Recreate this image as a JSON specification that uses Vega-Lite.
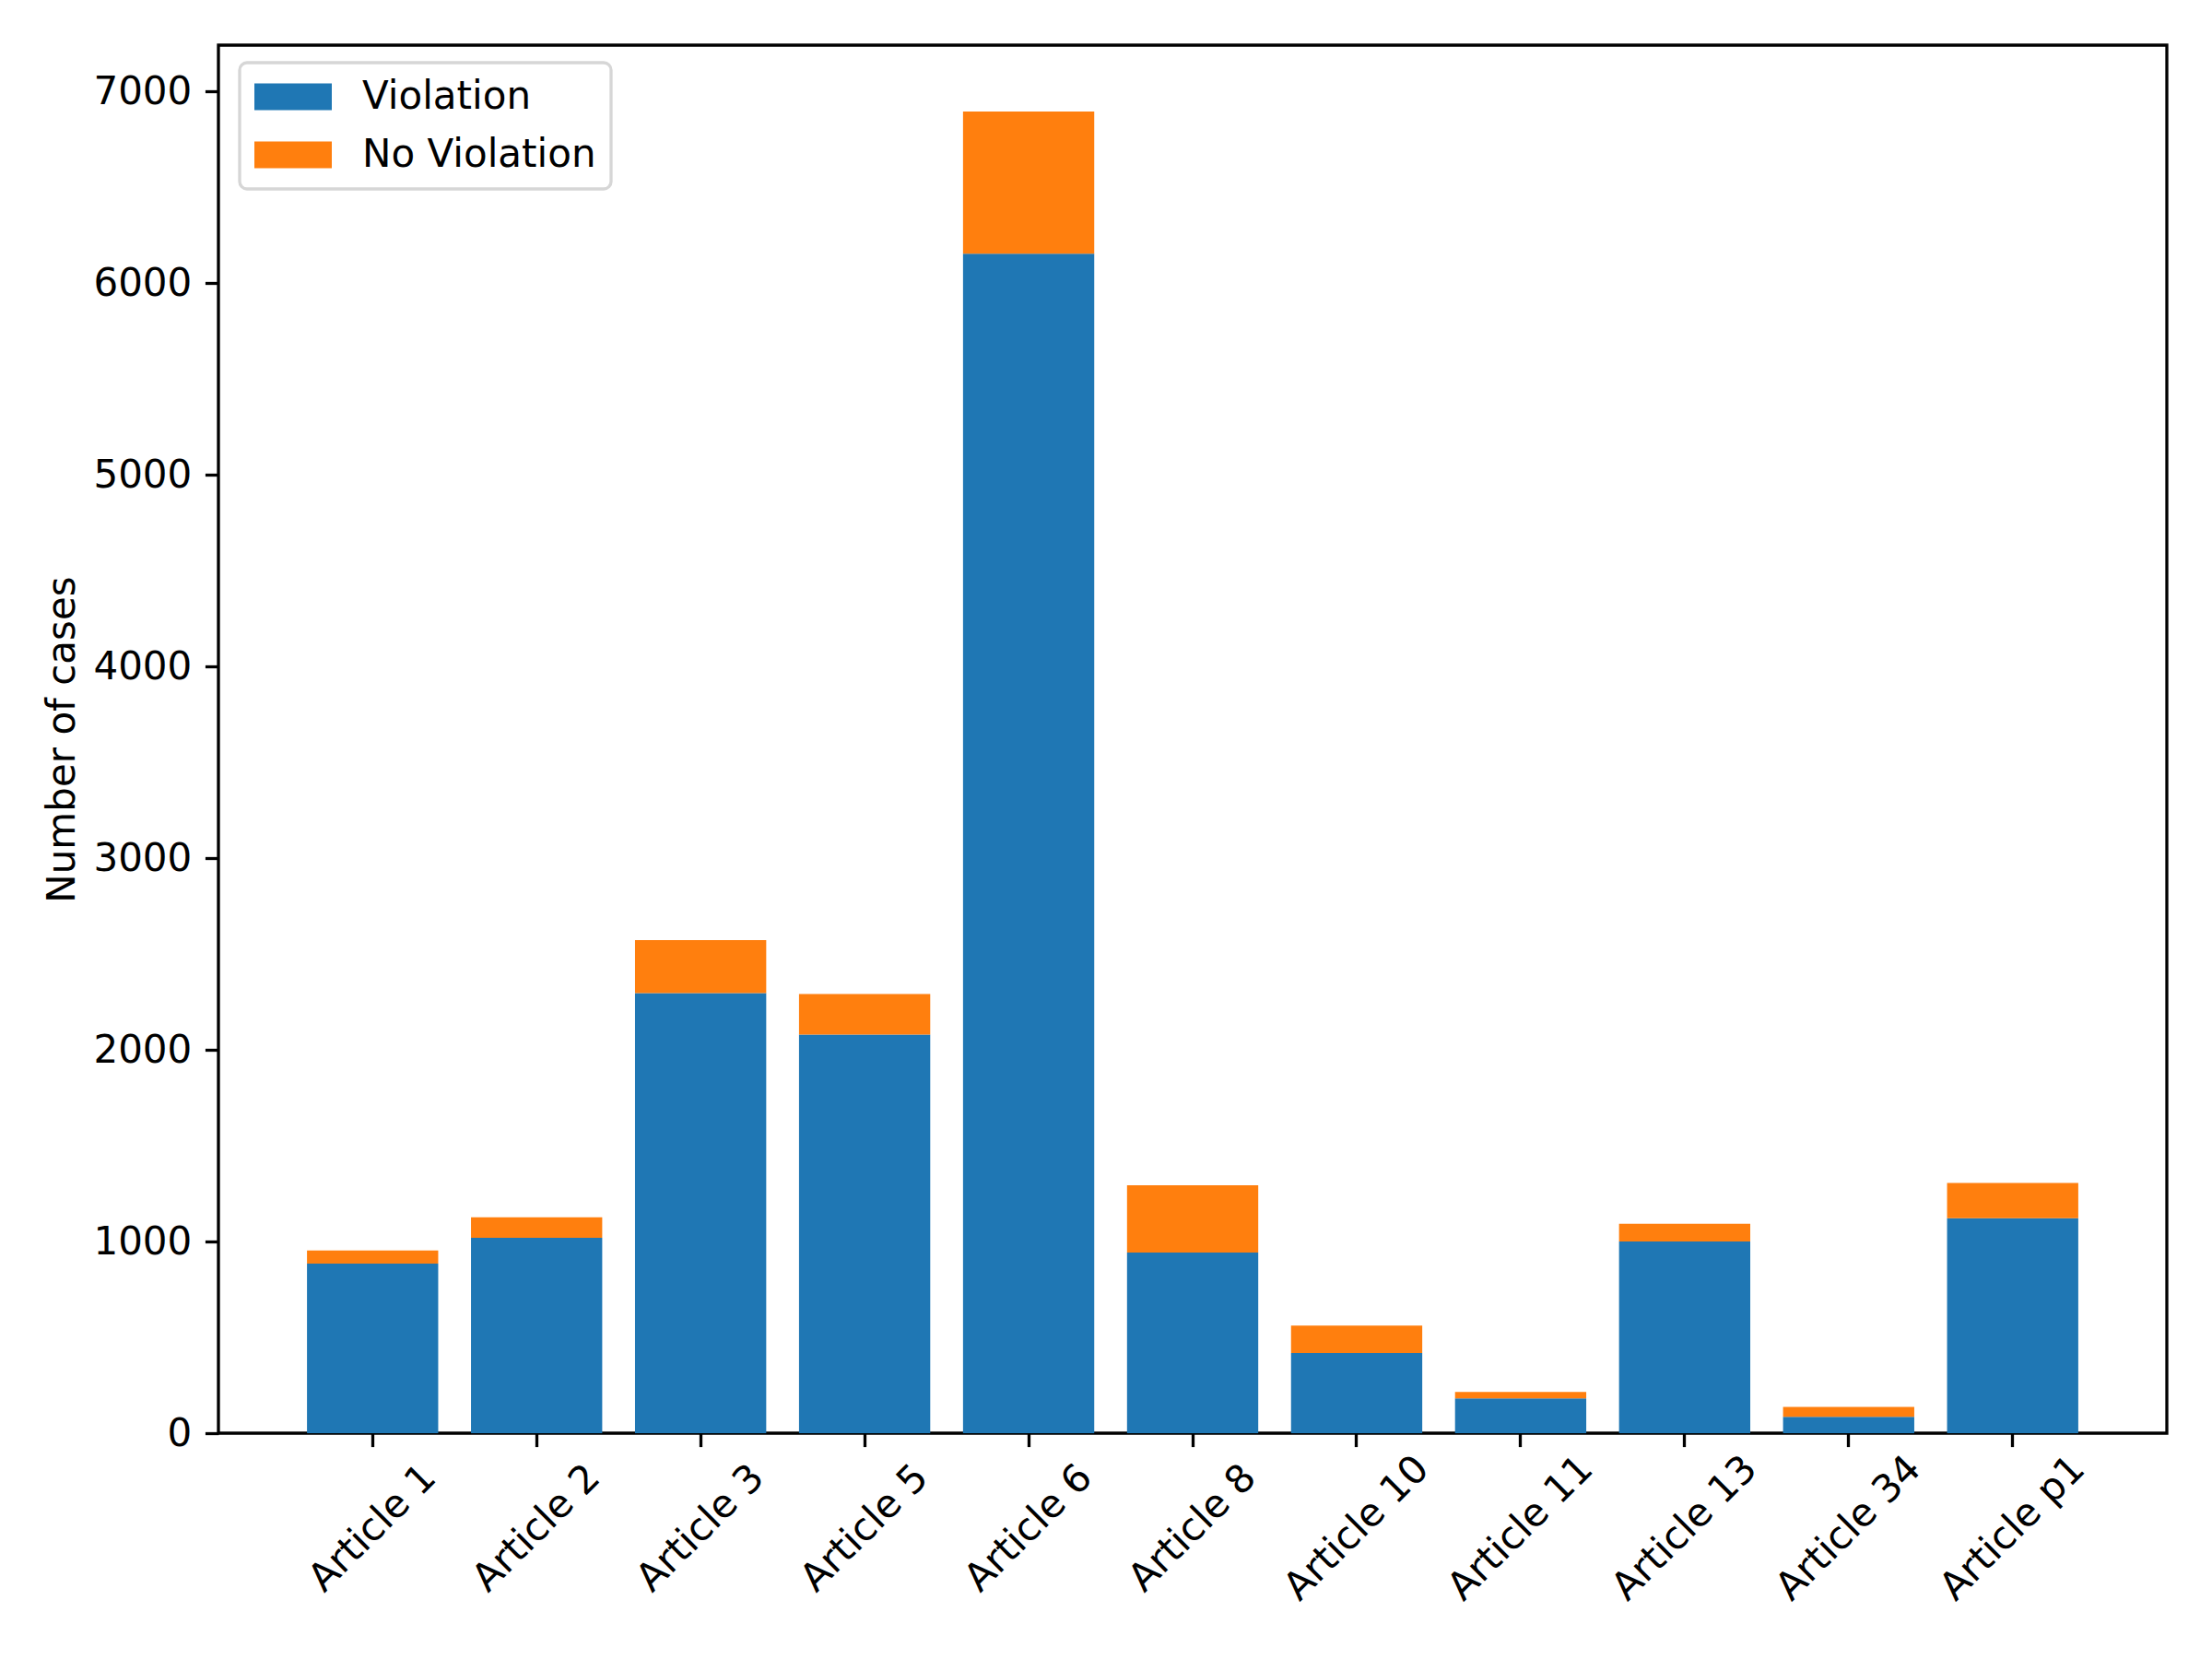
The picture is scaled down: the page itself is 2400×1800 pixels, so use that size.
{
  "$schema": "https://vega.github.io/schema/vega-lite/v6.json",
  "description": "Violation / no violation cases per article",
  "autosize": {"type": "none"},
  "padding": {"left": 237, "top": 49, "right": 49, "bottom": 245},
  "width": 2114,
  "height": 1506,
  "background": "white",
  "data": {
    "values": [
      {"article": "Article 1", "status": "Violation", "cases": 885},
      {"article": "Article 1", "status": "No Violation", "cases": 68},
      {"article": "Article 2", "status": "Violation", "cases": 1020},
      {"article": "Article 2", "status": "No Violation", "cases": 107},
      {"article": "Article 3", "status": "Violation", "cases": 2296},
      {"article": "Article 3", "status": "No Violation", "cases": 277},
      {"article": "Article 5", "status": "Violation", "cases": 2080},
      {"article": "Article 5", "status": "No Violation", "cases": 211},
      {"article": "Article 6", "status": "Violation", "cases": 6154},
      {"article": "Article 6", "status": "No Violation", "cases": 742},
      {"article": "Article 8", "status": "Violation", "cases": 942},
      {"article": "Article 8", "status": "No Violation", "cases": 352},
      {"article": "Article 10", "status": "Violation", "cases": 418},
      {"article": "Article 10", "status": "No Violation", "cases": 144},
      {"article": "Article 11", "status": "Violation", "cases": 181},
      {"article": "Article 11", "status": "No Violation", "cases": 34},
      {"article": "Article 13", "status": "Violation", "cases": 1000},
      {"article": "Article 13", "status": "No Violation", "cases": 93},
      {"article": "Article 34", "status": "Violation", "cases": 85},
      {"article": "Article 34", "status": "No Violation", "cases": 52},
      {"article": "Article p1", "status": "Violation", "cases": 1122},
      {"article": "Article p1", "status": "No Violation", "cases": 183}
    ]
  },
  "mark": {"type": "bar"},
  "encoding": {
    "x": {
      "field": "article",
      "type": "nominal",
      "sort": null,
      "title": null,
      "scale": {"paddingInner": 0.2, "paddingOuter": 0.54},
      "axis": {
        "labelAngle": -45,
        "labelAlign": "center",
        "labelBaseline": "middle",
        "labelPadding": 88,
        "labelLimit": 0
      }
    },
    "y": {
      "field": "cases",
      "type": "quantitative",
      "stack": "zero",
      "title": "Number of cases",
      "scale": {"domain": [0, 7242], "nice": false, "zero": true},
      "axis": {
        "values": [0, 1000, 2000, 3000, 4000, 5000, 6000, 7000],
        "format": "d",
        "titlePadding": 11
      }
    },
    "color": {
      "field": "status",
      "type": "nominal",
      "scale": {"domain": ["Violation", "No Violation"], "range": ["#1f77b4", "#ff7f0e"]},
      "legend": {
        "title": null,
        "orient": "none",
        "legendX": 23,
        "legendY": 19,
        "symbolType": "M-1,-0.69H3V0.69H-1Z",
        "symbolSize": 1764,
        "symbolStrokeWidth": 0,
        "labelOffset": 75,
        "labelLimit": 0,
        "rowPadding": 21,
        "padding": 16,
        "offset": 0,
        "strokeColor": "#d6d6d6",
        "cornerRadius": 8,
        "fillColor": "white",
        "encode": {
          "legend": {"update": {"strokeWidth": {"value": 3.3}}}
        }
      }
    },
    "order": {"field": "status", "sort": "descending"}
  },
  "config": {
    "font": "DejaVu Sans",
    "view": {"stroke": "black", "strokeWidth": 3.3},
    "axis": {
      "grid": false,
      "domain": false,
      "ticks": true,
      "tickColor": "black",
      "tickWidth": 3.3,
      "tickSize": 14.6,
      "labelFont": "DejaVu Sans",
      "labelFontSize": 42,
      "labelColor": "black",
      "titleFont": "DejaVu Sans",
      "titleFontSize": 42,
      "titleFontWeight": "normal",
      "titleColor": "black"
    },
    "axisY": {"labelPadding": 14.6},
    "legend": {
      "labelFont": "DejaVu Sans",
      "labelFontSize": 42,
      "labelColor": "black"
    }
  }
}
